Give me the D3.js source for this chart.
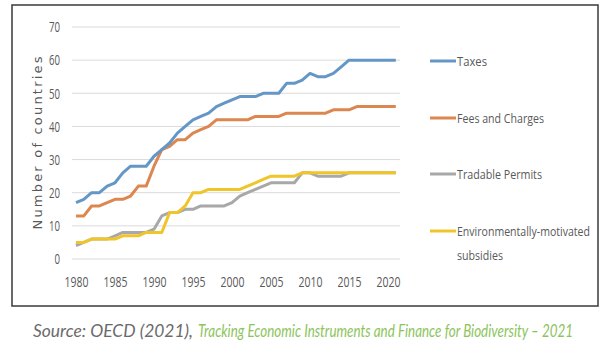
<!DOCTYPE html>
<html>
<head>
<meta charset="utf-8">
<script src="https://cdn.jsdelivr.net/npm/d3@7"></script>
<style>
  body { margin: 0; background: #fff; }
  text { font-family: "Open Sans", "DejaVu Sans", sans-serif; }
</style>
</head>
<body>
<div id="chart"></div>
<script>
// data
const years = d3.range(1980, 2022);
const taxes = [17,18,20,20,22,23,26,28,28,28,31,33,35,38,40,42,43,44,46,47,48,49,49,49,50,50,50,53,53,54,56,55,55,56,58,60,60,60,60,60,60,60];
const fees = [13,13,16,16,17,18,18,19,22,22,28,33,34,36,36,38,39,40,42,42,42,42,42,43,43,43,43,44,44,44,44,44,44,45,45,45,46,46,46,46,46,46];
const permits = [4,5,6,6,6,7,8,8,8,8,9,13,14,14,15,15,16,16,16,16,17,19,20,21,22,23,23,23,23,26,26,25,25,25,25,26,26,26,26,26,26,26];
const subsidies = [5,5,6,6,6,6,7,7,7,8,8,8,14,14,16,20,20,21,21,21,21,21,22,23,24,25,25,25,25,26,26,26,26,26,26,26,26,26,26,26,26,26];
const seriesNames = ["Taxes", "Fees and Charges", "Tradable Permits", "Environmentally-motivated subsidies"];
const seriesColors = ["#6497c6", "#dc8650", "#a8a8a8", "#f0c52a"];
const yTicks = [0,10,20,30,40,50,60,70];
const xTicks = [1980,1985,1990,1995,2000,2005,2010,2015,2020];

const width = 606, height = 353;
const svg = d3.select("#chart").append("svg")
  .attr("width", width).attr("height", height);

// frame
svg.append("rect")
  .attr("x", 12).attr("y", 5).attr("width", 586).attr("height", 301)
  .attr("fill", "none").attr("stroke", "#3a3a3a").attr("stroke-width", 1.5);

const x = d3.scaleLinear().domain([1980, 2020]).range([76, 388]);
const y = d3.scaleLinear().domain([0, 70]).range([259, 27]);

// gridlines
svg.append("g")
  .selectAll("line")
  .data(yTicks)
  .join("line")
    .attr("x1", 72).attr("x2", 400)
    .attr("y1", d => y(d)).attr("y2", d => y(d))
    .attr("stroke", "#dadada").attr("stroke-width", 1);

// y axis
svg.append("g")
  .attr("transform", "translate(72,0)")
  .call(d3.axisLeft(y).tickValues(yTicks).tickSize(0).tickPadding(12))
  .call(g => g.select(".domain").remove())
  .selectAll("text")
    .style("font-family", "Open Sans")
    .style("font-size", "15px").attr("fill", "#595959")
    .attr("textLength", d => String(d).length * 5.5)
    .attr("lengthAdjust", "spacingAndGlyphs");

// x axis
svg.append("g")
  .attr("transform", "translate(0,272)")
  .call(d3.axisBottom(x).tickValues(xTicks).tickFormat(d3.format("d")).tickSize(0).tickPadding(4))
  .call(g => g.select(".domain").remove())
  .selectAll("text")
    .style("font-family", "Open Sans")
    .style("font-size", "15px").attr("fill", "#595959")
    .attr("textLength", 24)
    .attr("lengthAdjust", "spacingAndGlyphs");

// axis title
svg.append("text")
  .attr("transform", "translate(42,143) rotate(-90)")
  .attr("text-anchor", "middle")
  .style("font-family", "DejaVu Sans")
  .style("font-size", "13px")
  .attr("fill", "#595959")
  .attr("textLength", 173)
  .attr("lengthAdjust", "spacing")
  .text("Number of countries");

// lines
const allSeries = [taxes, fees, permits, subsidies];
const line = d3.line()
  .x((d, i) => x(years[i]))
  .y(d => y(d));

// draw grey under yellow, blue over orange
[2, 3, 1, 0].forEach(k => {
  svg.append("path")
    .datum(allSeries[k])
    .attr("d", line)
    .attr("fill", "none")
    .attr("stroke", seriesColors[k])
    .attr("stroke-width", 3)
    .attr("stroke-linejoin", "round");
});

// legend
const legendY = [61, 118, 174, 231];
const legendLen = [30, 87, 85, 133];
const legend = svg.append("g");
seriesNames.forEach((name, i) => {
  legend.append("line")
    .attr("x1", 430).attr("x2", 456)
    .attr("y1", legendY[i]).attr("y2", legendY[i])
    .attr("stroke", seriesColors[i]).attr("stroke-width", 3);
  const t = legend.append("text")
    .attr("x", 457).attr("y", legendY[i] + 5)
    .style("font-size", "13.5px").attr("fill", "#595959");
  if (i === 3) {
    t.append("tspan").attr("textLength", legendLen[i]).attr("lengthAdjust", "spacingAndGlyphs")
      .text("Environmentally-motivated");
    t.append("tspan").attr("x", 457).attr("dy", 24)
      .attr("textLength", 46).attr("lengthAdjust", "spacingAndGlyphs").text("subsidies");
  } else {
    t.attr("textLength", legendLen[i]).attr("lengthAdjust", "spacingAndGlyphs").text(name);
  }
});

// source line
const src = svg.append("text")
  .attr("y", 337)
  .style("font-family", "Lato, 'Open Sans', sans-serif")
  .style("font-style", "italic")
  .style("font-size", "18px");
src.append("tspan").attr("x", 33).attr("fill", "#6b6b6b")
  .attr("textLength", 160).attr("lengthAdjust", "spacingAndGlyphs")
  .text("Source: OECD (2021),");
src.append("tspan").attr("x", 198).attr("fill", "#8cc45c")
  .attr("textLength", 375).attr("lengthAdjust", "spacingAndGlyphs")
  .text("Tracking Economic Instruments and Finance for Biodiversity \u2013 2021");
</script>
</body>
</html>
